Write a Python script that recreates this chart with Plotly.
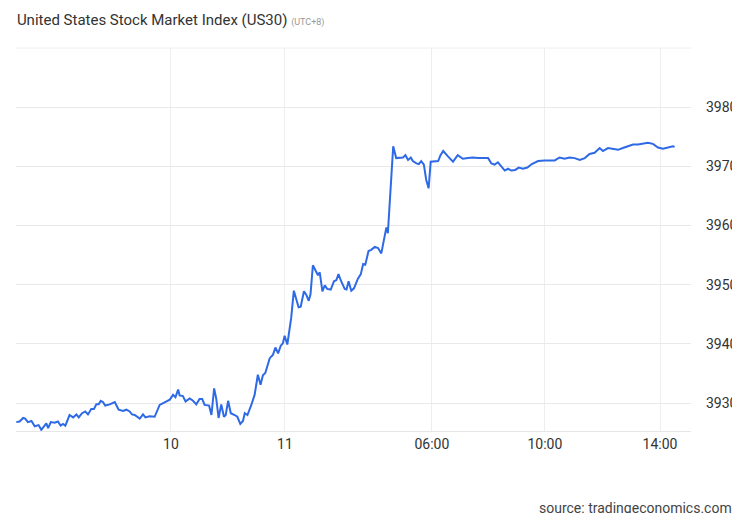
import plotly.graph_objects as go

hours = [-5.20,-5.09,-4.97,-4.90,-4.81,-4.69,-4.58,-4.45,-4.36,-4.25,-4.19,-4.13,-4.04,-3.91,-3.80,-3.71,-3.63,-3.55,-3.41,-3.29,-3.18,-3.10,-2.99,-2.88,-2.79,-2.68,-2.59,-2.51,-2.43,-2.36,-2.29,-2.21,-2.06,-1.89,-1.76,-1.61,-1.50,-1.39,-1.31,-1.22,-1.05,-0.94,-0.86,-0.72,-0.55,-0.38,-0.27,-0.16,-0.04,0.07,0.15,0.24,0.29,0.40,0.49,0.63,0.74,0.85,0.96,1.05,1.13,1.28,1.36,1.45,1.52,1.60,1.69,1.78,1.84,1.92,2.01,2.14,2.23,2.33,2.42,2.48,2.57,2.70,2.81,2.92,3.01,3.09,3.17,3.32,3.43,3.51,3.60,3.69,3.76,3.82,3.91,4.04,4.13,
         4.29,4.36,4.47,4.55,4.63,4.69,4.77,4.89,4.94,5.00,5.09,5.17,5.25,5.37,5.48,5.56,5.63,5.72,5.84,5.90,5.97,6.06,6.15,6.28,6.38,6.46,6.53,6.64,6.73,6.85,6.96,7.07,7.16,7.24,7.29,7.38,7.47,7.57,7.68,7.80,7.88,7.97,8.06,8.13,8.25,8.33,8.41,8.50,8.58,8.66,8.73,8.86,8.98,9.06,9.15,
         9.31,9.48,9.64,9.81,9.98,10.15,10.32,10.49,10.66,10.77,10.88,10.99,11.11,11.22,11.33,11.44,11.57,11.69,11.83,11.98,12.13,12.34,12.56,12.72,12.90,13.06,13.23,13.40,13.57,13.74,13.91,14.07,14.24,14.41,14.52,14.69,14.86,15.03,15.19,15.36,15.53,15.70,15.86,16.03,16.20,16.37,16.54,16.70,16.87,16.93]
prices = [39268,39269,39275,39274,39268,39270,39261,39263,39255,39261,39266,39258,39268,39267,39269,39262,39265,39262,39280,39276,39281,39276,39283,39286,39281,39290,39290,39298,39298,39304,39302,39296,39298,39302,39289,39287,39289,39286,39281,39280,39274,39281,39276,39278,39277,39297,39300,39302,39306,39314,39310,39323,39313,39312,39303,39308,39304,39298,39307,39307,39297,39296,39280,39325,39308,39275,39298,39277,39280,39304,39283,39280,39277,39265,39270,39283,39280,39297,39314,39348,39331,39347,39351,39376,39382,39394,39384,39397,39401,39414,39399,39444,39490,
          39462,39463,39489,39483,39473,39484,39533,39520,39516,39521,39489,39499,39493,39492,39506,39508,39518,39506,39493,39492,39506,39490,39494,39510,39518,39535,39534,39557,39559,39564,39562,39553,39578,39597,39587,39652,39734,39714,39715,39715,39719,39711,39715,39709,39705,39704,39709,39703,39677,39663,39708,39708,39709,39719,39726,
          39717,39708,39719,39713,39714,39715,39714,39714,39714,39705,39703,39707,39700,39693,39696,39693,39694,39698,39696,39698,39704,39709,39710,39710,39710,39715,39713,39715,39714,39711,39714,39721,39723,39731,39726,39731,39730,39728,39731,39734,39737,39737,39738,39740,39738,39732,39730,39732,39734,39733]

tick_vals = [0, 3.83, 8.77, 12.57, 16.44]
tick_text = ["10", "11", "06:00", "10:00", "14:00"]
y_ticks = [39300, 39400, 39500, 39600, 39700, 39800]
y_text = [str(v) for v in y_ticks]

fig = go.Figure(go.Scatter(x=hours, y=prices, mode="lines",
                           line=dict(color="#2e6ae6", width=2), hoverinfo="skip"))
fig.update_layout(
    width=740, height=513, paper_bgcolor="white", plot_bgcolor="white",
    margin=dict(l=8, r=57, t=40, b=90), showlegend=False,
    font=dict(family="Roboto, Arial, sans-serif", color="#333"),
    title=dict(text="United States Stock Market Index (US30) <span style='font-size:9px;color:#999'>(UTC+8)</span>",
               x=0.012, xanchor="left", y=0.978, yanchor="middle", font=dict(size=15, color="#333")),
    annotations=[dict(text="source: tradingeconomics.com", xref="paper", yref="paper",
                      x=1.063, y=-0.2, xanchor="right", yanchor="middle", showarrow=False,
                      font=dict(size=14, color="#444"))],
)
fig.update_xaxes(range=[-5.21, 17.48], tickvals=tick_vals, ticktext=tick_text, automargin=False,
                 showgrid=True, gridcolor="#eeeeee", zeroline=False, showline=True,
                 linecolor="#e6e6e6", ticks="", tickfont=dict(size=14, color="#333"))
fig.update_yaxes(range=[39253, 39900], side="right", tickvals=y_ticks, ticktext=y_text,
                 automargin=False, showgrid=True, gridcolor="#e8e8e8", zeroline=False,
                 showline=False, ticks="", tickfont=dict(size=14, color="#333"),
                 ticklabelstandoff=14)
fig.add_shape(type="line", xref="paper", yref="paper", x0=0, x1=1, y0=1, y1=1,
              line=dict(color="#eeeeee", width=1))
fig.write_html("out.html")
